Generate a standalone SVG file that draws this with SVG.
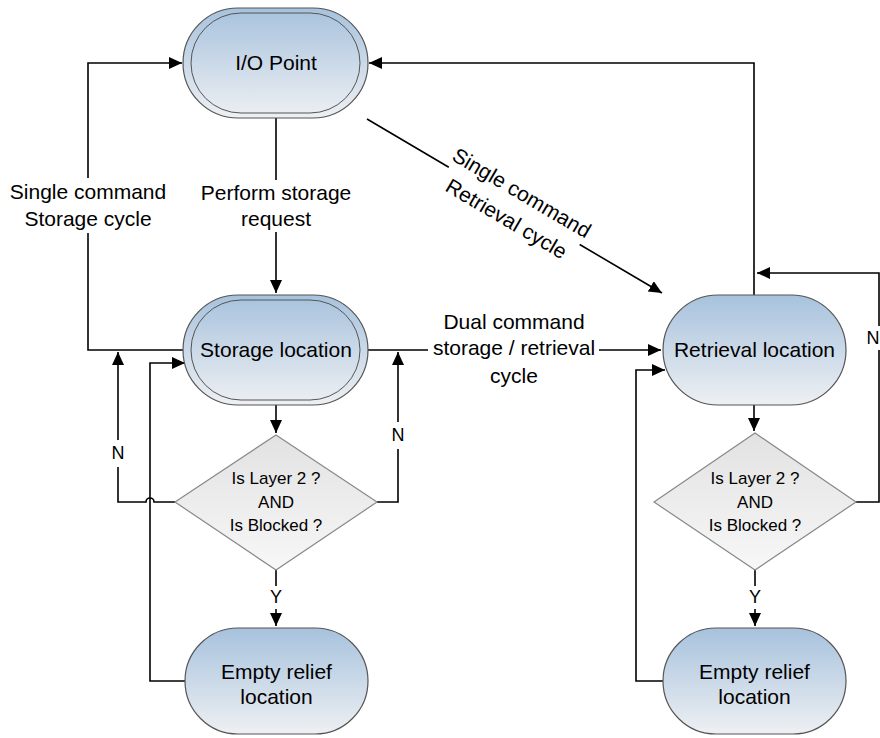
<svg xmlns="http://www.w3.org/2000/svg" width="880" height="738" viewBox="0 0 880 738">
<defs>
<linearGradient id="blue" x1="0" y1="0" x2="0" y2="1">
<stop offset="0" stop-color="#a7c2dd"/>
<stop offset="1" stop-color="#eef0f3"/>
</linearGradient>
<linearGradient id="gray" x1="0" y1="0" x2="0" y2="1">
<stop offset="0" stop-color="#e2e2e2"/>
<stop offset="1" stop-color="#f7f7f7"/>
</linearGradient>
<marker id="arr" markerUnits="userSpaceOnUse" markerWidth="15" markerHeight="13" refX="13" refY="6" orient="auto">
<path d="M0,0 L13,6 L0,12 z" fill="#000"/>
</marker>
</defs>
<style>
.term{fill:url(#blue);stroke:#555;stroke-width:1.2}
.inner{fill:none;stroke:#555;stroke-width:1}
.dec{fill:url(#gray);stroke:#888;stroke-width:1.2}
.edge{fill:none;stroke:#000;stroke-width:1.6;marker-end:url(#arr)}
text{font-family:"Liberation Sans",Arial,sans-serif;fill:#000;text-anchor:middle}
.nt{font-size:21px}
.lt{font-size:21px}
.dt{font-size:17px}
.yn{font-size:18px}
</style>
<rect width="880" height="738" fill="#fff"/>
<g id="connectors">
<path class="edge" d="M276,118 V180 M276,232 V293"/>
<path class="edge" d="M183,350 H88 V233 M88,178 V63 H182"/>
<path class="edge" d="M368,350 H428 M599,350 H661"/>
<path class="edge" d="M367,119 L448.8,167.3 M579.7,244.5 L662,293"/>
<path class="edge" d="M754,295 V63 H369"/>
<path class="edge" d="M276,405 V433"/>
<path class="edge" d="M276,570 V586 M276,609 V626"/>
<path class="edge" d="M175,502 H154 A4,4 0 0 0 146,502 H118 V467 M118,440 V352"/>
<path class="edge" d="M377,502 H398 V449 M398,422 V352"/>
<path class="edge" d="M185,681 H150 V363 H185"/>
<path class="edge" d="M754,405 V431"/>
<path class="edge" d="M755,570 V586 M755,609 V626"/>
<path class="edge" d="M663,681 H636 V370 H665"/>
<path class="edge" d="M856,502 H879 V350 M879,326 V273 H757"/>
<text class="lt" x="276" y="200">Perform storage</text>
<text class="lt" x="276" y="226">request</text>
<text class="lt" x="88" y="199">Single command</text>
<text class="lt" x="88" y="226">Storage cycle</text>
<text class="lt" x="514" y="329">Dual command</text>
<text class="lt" x="514" y="355">storage / retrieval</text>
<text class="lt" x="514" y="383">cycle</text>
<g transform="translate(514,206) rotate(30.5)">
<text class="lt" x="0" y="-8">Single command</text>
<text class="lt" x="0" y="22">Retrieval cycle</text>
</g>
<text class="yn" x="118" y="459">N</text>
<text class="yn" x="398" y="441">N</text>
<text class="yn" x="873" y="344">N</text>
<text class="yn" x="276" y="603">Y</text>
<text class="yn" x="755" y="603">Y</text>
</g>
<g id="io">
<rect class="term" x="183" y="8" width="185" height="110" rx="55" ry="55"/>
<rect class="inner" x="191" y="13" width="169" height="100" rx="50" ry="50"/>
<text class="nt" x="276" y="70">I/O Point</text>
</g>
<g id="storage">
<rect class="term" x="183" y="295" width="185" height="110" rx="55" ry="55"/>
<rect class="inner" x="191" y="300" width="169" height="100" rx="50" ry="50"/>
<text class="nt" x="276" y="357">Storage location</text>
</g>
<g id="retrieval">
<rect class="term" x="663" y="295" width="183" height="110" rx="55" ry="55"/>
<text class="nt" x="754.5" y="357">Retrieval location</text>
</g>
<g id="decision-left">
<polygon class="dec" points="276,435 377,502 276,570 175,502"/>
<text class="dt" x="276" y="484">Is Layer 2 ?</text>
<text class="dt" x="276" y="508">AND</text>
<text class="dt" x="276" y="531">Is Blocked ?</text>
</g>
<g id="decision-right">
<polygon class="dec" points="755,433 856,502 755,570 654,502"/>
<text class="dt" x="755" y="484">Is Layer 2 ?</text>
<text class="dt" x="755" y="508">AND</text>
<text class="dt" x="755" y="531">Is Blocked ?</text>
</g>
<g id="relief-left">
<rect class="term" x="185" y="628" width="183" height="106" rx="53" ry="53"/>
<text class="nt" x="276.5" y="679">Empty relief</text>
<text class="nt" x="276.5" y="704">location</text>
</g>
<g id="relief-right">
<rect class="term" x="663" y="628" width="183" height="106" rx="53" ry="53"/>
<text class="nt" x="754.5" y="679">Empty relief</text>
<text class="nt" x="754.5" y="704">location</text>
</g>
</svg>
